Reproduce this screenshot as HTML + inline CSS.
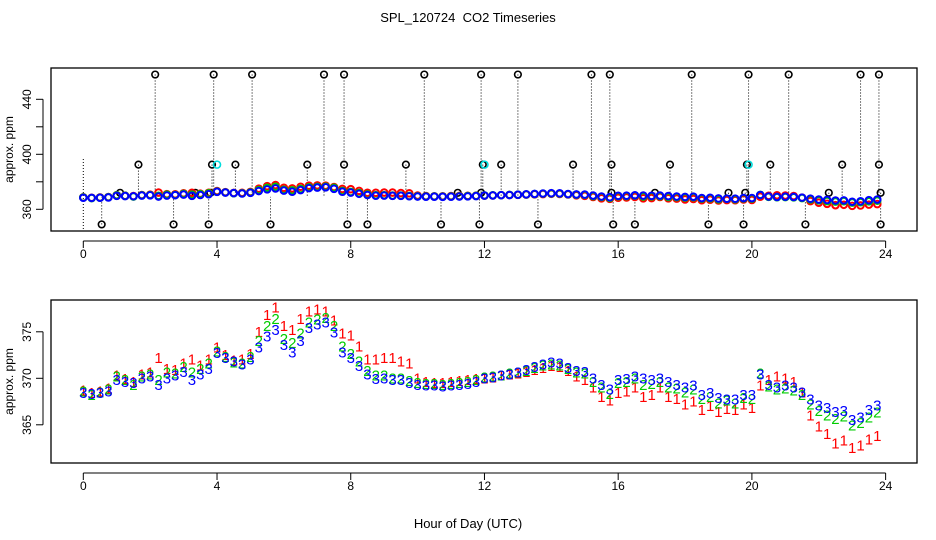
<!DOCTYPE html>
<html><head><meta charset="utf-8"><style>
html,body{margin:0;padding:0;background:#fff;}
svg{display:block;font-family:"Liberation Sans",sans-serif;}
</style></head><body>
<svg id="c" width="936" height="540" viewBox="0 0 936 540" xmlns="http://www.w3.org/2000/svg">
<rect width="936" height="540" fill="#fff"/>
<text x="468" y="22" font-size="13" text-anchor="middle">SPL_120724 &#160;CO2 Timeseries</text>
<text x="468" y="528" font-size="13" text-anchor="middle">Hour of Day (UTC)</text>
<g id="topPanel"></g>
<g id="botPanel"></g>
</svg>
<script>
const seriesRed=[368.7,368.4,368.6,368.9,370.3,369.9,369.6,370.4,370.6,372.2,371.0,370.9,371.6,372.0,371.4,372.0,373.3,372.5,371.9,372.0,372.6,375.0,376.8,377.6,375.6,375.2,376.4,377.2,377.4,377.2,376.2,374.8,374.6,373.4,372.0,372.0,372.2,372.2,371.8,371.6,370.0,369.6,369.5,369.5,369.6,369.7,369.8,369.9,370.0,370.1,370.3,370.4,370.5,370.7,370.9,371.1,371.3,371.2,370.8,370.2,369.8,369.0,368.0,367.6,368.4,368.6,369.0,368.0,368.2,369.0,368.0,367.8,367.2,367.5,366.6,367.0,366.4,366.7,366.6,367.2,366.8,369.2,369.8,370.2,370.0,369.6,368.5,366.0,364.8,364.0,363.0,363.3,362.5,362.8,363.4,363.8];
const seriesGreen=[368.6,368.2,368.5,368.8,370.2,369.8,369.3,370.2,370.4,369.8,370.6,370.5,371.2,370.6,371.0,371.6,372.9,372.3,371.7,371.6,372.3,374.0,375.6,376.4,374.2,373.8,374.8,376.0,376.3,376.5,375.6,373.4,372.6,371.8,370.8,370.3,370.3,370.0,370.0,369.7,369.5,369.4,369.4,369.3,369.4,369.5,369.6,369.8,370.1,370.2,370.3,370.5,370.6,370.8,371.1,371.4,371.5,371.4,371.0,370.6,370.5,369.6,369.0,368.3,369.5,369.6,370.0,369.3,369.4,369.6,369.0,368.9,368.5,368.8,367.8,368.0,367.3,367.6,367.3,367.9,367.8,370.5,369.1,368.8,368.9,368.7,368.2,367.2,366.5,366.0,365.6,365.9,364.9,365.2,365.8,366.3];
const seriesBlue=[368.4,368.3,368.4,368.6,369.8,369.6,369.5,370.0,370.2,369.3,370.0,370.3,370.7,369.8,370.4,371.0,372.7,372.2,371.8,371.5,372.0,373.3,374.5,375.2,373.6,372.8,374.0,375.4,375.8,376.0,374.9,372.8,372.2,371.3,370.4,369.9,370.0,369.8,369.8,369.5,369.3,369.2,369.2,369.1,369.2,369.3,369.4,369.6,370.0,370.1,370.3,370.4,370.6,370.9,371.2,371.5,371.7,371.6,371.1,370.8,370.7,370.0,369.3,368.8,369.8,369.9,370.2,370.0,369.8,370.0,369.6,369.3,369.0,369.2,368.2,368.4,367.9,367.7,367.7,368.2,368.2,370.4,369.3,369.0,369.2,369.0,368.5,367.7,367.1,366.8,366.4,366.5,365.5,365.8,366.6,367.1];
const outlierHours=[2.15,3.9,5.05,7.2,7.8,10.2,11.9,13.0,15.2,15.75,18.2,19.9,21.1,23.25,23.8,1.65,3.85,4.55,6.7,7.8,9.65,11.95,12.5,14.65,15.8,17.55,19.85,20.55,22.7,23.8,0.55,2.7,3.75,5.6,7.9,8.5,10.7,11.85,13.6,15.85,16.5,18.7,19.75,21.6,23.85,1.1,3.35,3.8,11.2,11.9,15.8,17.1,19.3,19.8,22.3,23.85];
const outlierValues=[458,458,458,458,458,458,458,458,458,458,458,458,458,458,458,392.5,392.5,392.5,392.5,392.5,392.5,392.5,392.5,392.5,392.5,392.5,392.5,392.5,392.5,392.5,349,349,349,349,349,349,349,349,349,349,349,349,349,349,349,372,372,372,372,372,372,372,372,372,372,372];
const cyanHours=[4.0,12.0,19.9];
const cyanValues=[392.5,392.5,392.5];
const xTicks=[0,4,8,12,16,20,24];
const topYTicks=[360,380,400,420,440];
const topYLabels=[360,400,440];
const botYTicks=[365,370,375];
const hours=seriesBlue.map((v,i)=>i*0.25);

const NS="http://www.w3.org/2000/svg";
function mk(parent,tag,attrs){const e=document.createElementNS(NS,tag);for(const k in attrs)e.setAttribute(k,attrs[k]);parent.appendChild(e);return e;}
const X=h=>83.3+h*33.43;
const Yt=v=>209.3-(v-360)*1.375;
const Yb=v=>378.3-(v-370)*9.3;

function frame(g,y0,y1,yTicks,yLabels,Y,name){
  const r=mk(g,'rect',{x:51,y:y0,width:866,height:y1-y0,fill:'none',stroke:'#000','stroke-width':1.3});
  
  
  const xa=mk(g,'g',{});
  
  
  mk(xa,'line',{x1:X(0),x2:X(24),y1:y1+10,y2:y1+10,stroke:'#000'});
  xTicks.forEach(t=>{
    mk(xa,'line',{x1:X(t),x2:X(t),y1:y1+10,y2:y1+17,stroke:'#000'});
    const tx=mk(xa,'text',{x:X(t),y:y1+27,'font-size':12,'text-anchor':'middle'});
    tx.textContent=t;
    
    
  });
  const ya=mk(g,'g',{});
  
  
  mk(ya,'line',{x1:43,x2:43,y1:Y(yTicks[0]),y2:Y(yTicks[yTicks.length-1]),stroke:'#000'});
  yTicks.forEach(t=>mk(ya,'line',{x1:36,x2:43,y1:Y(t),y2:Y(t),stroke:'#000'}));
  yLabels.forEach(t=>{
    const tx=mk(ya,'text',{x:31,y:Y(t),'font-size':12,'text-anchor':'middle',transform:`rotate(-90 31 ${Y(t)})`});
    tx.textContent=t;
    
    
  });
  const yt=mk(g,'text',{x:13,y:(y0+y1)/2,'font-size':12,'text-anchor':'middle',transform:`rotate(-90 13 ${(y0+y1)/2})`});
  yt.textContent='approx. ppm';
  
  
}

const topG=document.getElementById('topPanel');
frame(topG,68,231,topYTicks,topYLabels,Yt,'top');
const ol=mk(topG,'g',{});


mk(ol,'line',{x1:X(0),x2:X(0),y1:159,y2:231,stroke:'#000','stroke-dasharray':'1,2'});
outlierHours.forEach((h,i)=>{
  mk(ol,'line',{x1:X(h),x2:X(h),y1:Yt(outlierValues[i]),y2:Yt(369),stroke:'#000','stroke-dasharray':'1,2'});
});
[[seriesRed,'#f00','red'],[seriesGreen,'#0c0','green'],[seriesBlue,'#00f','blue']].forEach(([s,c,n])=>{
  const g=mk(topG,'g',{});
  
  
  s.forEach((v,i)=>{
    const p=mk(g,'circle',{cx:X(hours[i]),cy:Yt(v),r:3.3,fill:'none',stroke:c,'stroke-width':2});
    
    
  });
});
outlierHours.forEach((h,i)=>{
  const p=mk(ol,'circle',{cx:X(h),cy:Yt(outlierValues[i]),r:3.3,fill:'none',stroke:'#000','stroke-width':1.6});
  
  
});
cyanHours.forEach((h,i)=>{
  const p=mk(ol,'circle',{cx:X(h),cy:Yt(cyanValues[i]),r:3.5,fill:'none',stroke:'#0dd','stroke-width':1.6});
  
  
});

const botG=document.getElementById('botPanel');
frame(botG,300,463,botYTicks,botYTicks,Yb,'bottom');
[[seriesRed,'#f00','1','red'],[seriesGreen,'#0c0','2','green'],[seriesBlue,'#00f','3','blue']].forEach(([s,c,ch,n])=>{
  const g=mk(botG,'g',{});
  
  
  s.forEach((v,i)=>{
    const t=mk(g,'text',{x:X(hours[i]),y:Yb(v)+5,'font-size':15,'text-anchor':'middle',fill:c});
    t.textContent=ch;
    
    
  });
});
</script>
</body></html>
